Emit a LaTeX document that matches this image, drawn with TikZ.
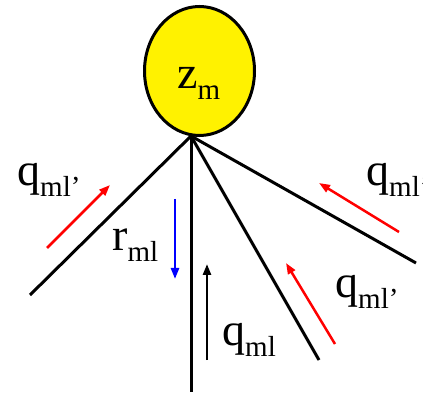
\documentclass[tikz,border=0pt]{standalone}
\usepackage{fontspec}
\setmainfont{Liberation Serif}
\usetikzlibrary{arrows.meta,shapes.geometric}
\newcommand{\lbl}[2]{#1\raisebox{-11pt}{\fontsize{29}{30}\selectfont #2}}

\begin{document}
\begin{tikzpicture}[x=1pt,y=-1pt,
  br/.style={line width=3pt,draw=black},
  fl/.style={-{Triangle[length=11pt,width=8pt]},line width=2.5pt,draw=#1},
  lb/.style={anchor=base west,inner sep=0pt,font=\fontsize{46}{50}\selectfont}]
  \useasboundingbox (0,0) rectangle (423,395);
  % branches from the hub under the node
  \coordinate (hub) at (191,136);
  \foreach \n/\p in {w/{30,295},s/{191,392},se/{319,360},e/{416,263}}
    \coordinate (end\n) at (\p);
  \foreach \n in {w,s,se,e} \draw[br] (hub) -- (end\n);
  \node[ellipse,draw,line width=3pt,fill=yellow,minimum width=110pt,minimum height=129pt,inner sep=0pt] (zm) at (199.5,71) {};
  \node[lb] (zmlbl) at (177,89) {\lbl{z}{m}};
  % flows
  \coordinate (fw0) at (47,248);   \coordinate (fw1) at (110,185);
  \coordinate (fr0) at (175,199);  \coordinate (fr1) at (175,279);
  \coordinate (fs0) at (207,360);  \coordinate (fs1) at (207,264);
  \coordinate (fse0) at (335,344); \coordinate (fse1) at (286,263);
  \coordinate (fe0) at (399,232);  \coordinate (fe1) at (319,183);
  \draw[fl=red] (fw0) -- (fw1);
  \draw[fl=blue] (fr0) -- (fr1);
  \draw[fl=black] (fs0) -- (fs1);
  \draw[fl=red] (fse0) -- (fse1);
  \draw[fl=red] (fe0) -- (fe1);
  % labels
  \node[lb] (qw) at (17,186) {\lbl{q}{ml'}};
  \node[lb] (rml) at (112,251) {\lbl{r}{ml}};
  \node[lb] (qs) at (222,345) {\lbl{q}{ml}};
  \node[lb] (qse) at (335,298) {\lbl{q}{ml'}};
  \node[lb] (qe) at (366,186) {\lbl{q}{ml'}};
\end{tikzpicture}
\end{document}
